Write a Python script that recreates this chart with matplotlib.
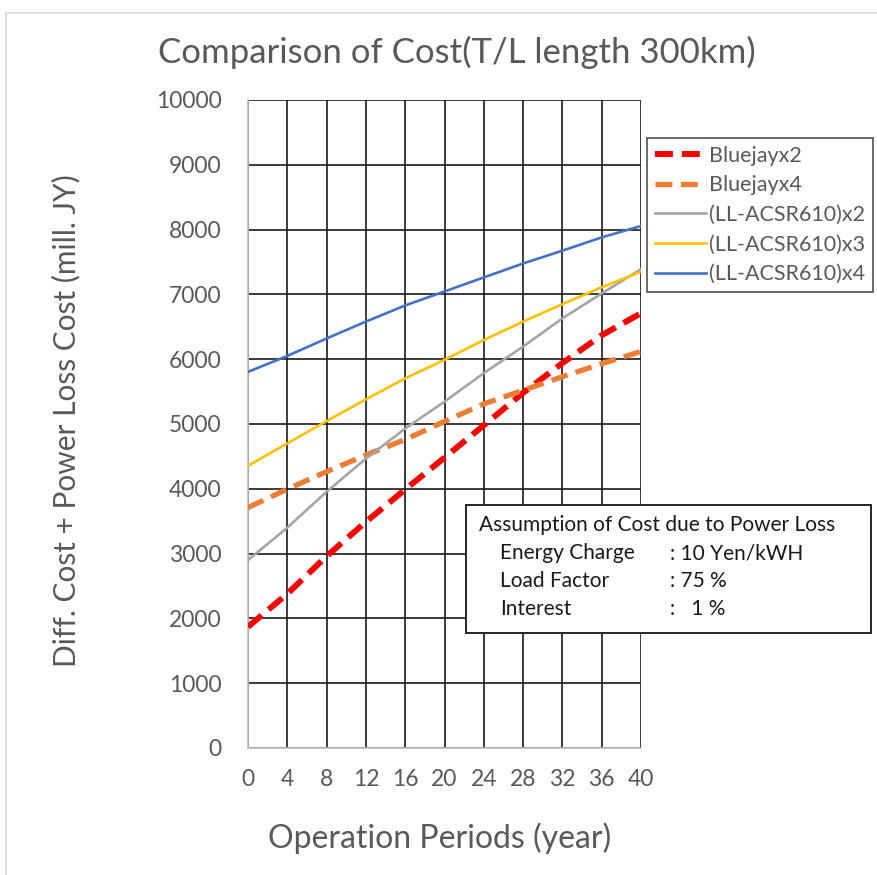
import matplotlib
matplotlib.use("Agg")
import matplotlib.pyplot as plt
from matplotlib.patches import Rectangle

# 운용 기간(년)
years = [0, 4, 8, 12, 16, 20, 24, 28, 32, 36, 40]

# 비용 (mill. JY) - 그림에서 읽은 값
bluejay_x2 = [1870, 2380, 2960, 3490, 3990, 4480, 4980, 5480, 5940, 6370, 6710]
bluejay_x4 = [3710, 3995, 4265, 4520, 4760, 5040, 5310, 5520, 5730, 5930, 6120]
acsr610_x2 = [2900, 3400, 3955, 4465, 4930, 5345, 5785, 6195, 6630, 7015, 7390]
acsr610_x3 = [4355, 4700, 5045, 5380, 5705, 5990, 6295, 6580, 6850, 7110, 7350]
acsr610_x4 = [5805, 6050, 6320, 6580, 6830, 7045, 7262, 7477, 7675, 7880, 8055]

series_labels = ["Bluejayx2", "Bluejayx4", "(LL-ACSR610)x2", "(LL-ACSR610)x3", "(LL-ACSR610)x4"]
y_ticks = list(range(0, 10001, 1000))

W, H = 877, 875
TXT = "#595959"

plt.rcParams["font.family"] = ["Lato", "DejaVu Sans"]


def fx(px):
    return px / W


def fy(py):
    return 1 - py / H


fig = plt.figure(figsize=(W / 100, H / 100), dpi=100)
ax = fig.add_axes([fx(248), fy(748), fx(641) - fx(248), fy(100) - fy(748)])

ax.plot(years, bluejay_x2, color="#FF0000", lw=4.3, dashes=(3.0, 1.5), label=series_labels[0], zorder=3)
ax.plot(years, bluejay_x4, color="#ED7D31", lw=3.8, dashes=(3.2, 1.6), label=series_labels[1], zorder=3)
ax.plot(years, acsr610_x2, color="#A5A5A5", lw=1.9, label=series_labels[2], zorder=3)
ax.plot(years, acsr610_x3, color="#FFC000", lw=1.9, label=series_labels[3], zorder=3)
ax.plot(years, acsr610_x4, color="#4472C4", lw=1.9, label=series_labels[4], zorder=3)

ax.set_xlim(0, 40)
ax.set_ylim(0, 10000)
ax.set_xticks(years)
ax.set_yticks(y_ticks)
ax.grid(True, color="#1a1a1a", lw=1.2, zorder=1)
ax.set_axisbelow(True)
for s in ("top", "right"):
    ax.spines[s].set_visible(False)
for s in ("left", "bottom"):
    ax.spines[s].set_color("#BFBFBF")
    ax.spines[s].set_linewidth(1.2)
ax.tick_params(axis="both", length=0, labelsize=16.5, colors=TXT)
ax.tick_params(axis="y", pad=19)
ax.tick_params(axis="x", pad=15)

fig.text(fx(457), fy(52), "Comparison of Cost(T/L length 300km)", ha="center", va="center",
         fontsize=25, color=TXT)
fig.text(fx(66), fy(421), "Diff. Cost + Power Loss Cost (mill. JY)", ha="center", va="center",
         rotation=90, fontsize=21.5, color=TXT)
fig.text(fx(440), fy(838), "Operation Periods (year)", ha="center", va="center",
         fontsize=23, color=TXT)

# 범례는 원본처럼 오른쪽 끝에 붙여 둔다
leg = fig.legend(loc="upper left", bbox_to_anchor=(fx(647), fy(138)), bbox_transform=fig.transFigure,
                 fontsize=15.5, frameon=True, fancybox=False, borderpad=0.35, labelspacing=0.45,
                 handlelength=2.4, handletextpad=0.15, borderaxespad=0)
leg.get_frame().set_edgecolor("#262626")
leg.get_frame().set_linewidth(1.2)
for t in leg.get_texts():
    t.set_color(TXT)

# 전력손실 비용 가정 박스
fig.add_artist(Rectangle((fx(466), fy(633)), fx(871) - fx(466), fy(505) - fy(633),
                         transform=fig.transFigure, facecolor="white", edgecolor="#262626",
                         lw=1.4, zorder=5))
note_kw = dict(fontsize=15, color="#1a1a1a", va="center", zorder=6)
fig.text(fx(479), fy(525), "Assumption of Cost due to Power Loss", **note_kw)
fig.text(fx(500), fy(553), "Energy Charge", **note_kw)
fig.text(fx(500), fy(581), "Load Factor", **note_kw)
fig.text(fx(500), fy(609), "Interest", **note_kw)
fig.text(fx(670), fy(553), ": 10 Yen/kWH", **note_kw)
fig.text(fx(670), fy(581), ": 75 %", **note_kw)
fig.text(fx(670), fy(609), ":   1 %", **note_kw)

# 차트 영역 테두리
fig.add_artist(Rectangle((fx(6), fy(900)), 1.2, fy(13) - fy(900), transform=fig.transFigure,
                         facecolor="none", edgecolor="#D9D9D9", lw=1.2, clip_on=False))

fig.savefig("out.png", dpi=100)
